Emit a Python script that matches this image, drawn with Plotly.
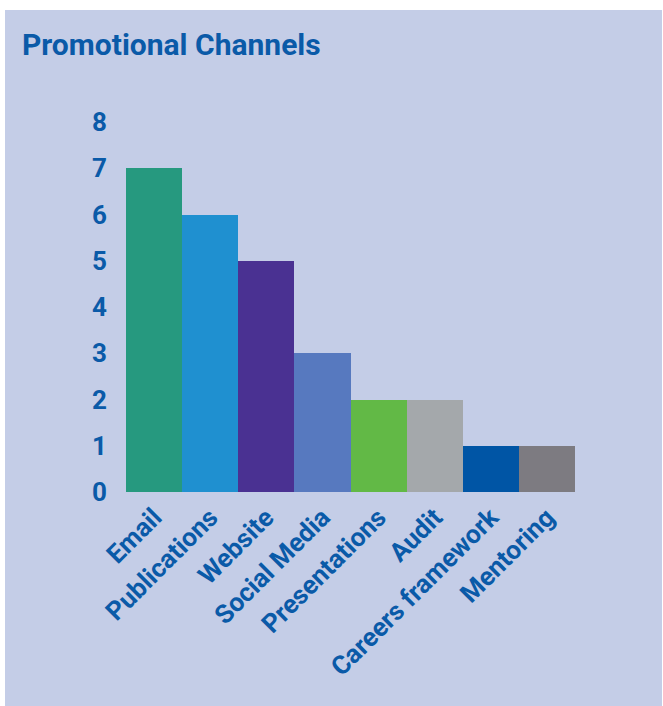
import plotly.graph_objects as go

categories = ["Email", "Publications", "Website", "Social Media", "Presentations",
              "Audit", "Careers framework", "Mentoring"]
values = [7, 6, 5, 3, 2, 2, 1, 1]
colors = ["#26997f", "#1f90d0", "#4a3192", "#5779bf", "#62b946",
          "#a4a8ab", "#0055a5", "#7d7b81"]
y_ticks = [0, 1, 2, 3, 4, 5, 6, 7, 8]

W, H = 663, 706
L, R, T, B = 126, 88, 122, 214
pw, ph = W - L - R, H - T - B

text_color = "#0a5aa8"
font_family = "Roboto"

fig = go.Figure(go.Bar(x=categories, y=values, marker=dict(color=colors, line=dict(width=0)),
                       hoverinfo="x+y"))

# lavender panel with thin white border
fig.add_shape(type="rect", xref="paper", yref="paper", layer="below",
              x0=(5 - L) / pw, x1=(W - 1 - L) / pw,
              y0=(B - H) / ph, y1=1 + (T - 10) / ph,
              fillcolor="#c4cde7", line=dict(width=0))

fig.update_layout(
    width=W, height=H,
    margin=dict(l=L, r=R, t=T, b=B, pad=0),
    paper_bgcolor="white", plot_bgcolor="rgba(0,0,0,0)",
    bargap=0,
    showlegend=False,
    title=dict(text="<b>Promotional Channels</b>", x=22 / W, xanchor="left",
               y=1 - 44 / H, yanchor="middle", xref="container", yref="container",
               font=dict(family=font_family, size=30, color=text_color)),
    xaxis=dict(tickangle=-45, showgrid=False, zeroline=False, showline=False, ticks="",
               tickfont=dict(family=font_family, size=26, color=text_color, weight="bold"),
               ticklabelstandoff=4),
    yaxis=dict(range=[0, 8], tickvals=y_ticks, showgrid=False, zeroline=False, showline=False,
               ticks="", tickfont=dict(family=font_family, size=26, color=text_color, weight="bold"),
               ticklabelstandoff=18),
)

fig.write_html("out.html")
